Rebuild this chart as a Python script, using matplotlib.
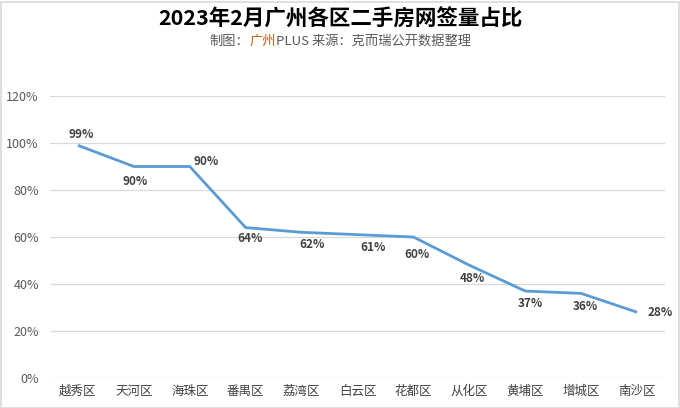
import matplotlib
matplotlib.use("Agg")
import matplotlib.pyplot as plt
from matplotlib.patches import Rectangle
from matplotlib.ticker import FuncFormatter

plt.rcParams['font.family'] = ['Noto Sans CJK SC', 'DejaVu Sans']

districts = ["越秀区", "天河区", "海珠区", "番禺区", "荔湾区", "白云区", "花都区", "从化区", "黄埔区", "增城区", "南沙区"]
shares = [99, 90, 90, 64, 62, 61, 60, 48, 37, 36, 28]
label_offsets = [(3, 11), (1, -15), (16, 5), (4, -11), (10, -12), (16, -13),
                 (4, -17), (3, -13), (5, -12), (4, -13), (23, 0)]
yticks = [0, 20, 40, 60, 80, 100, 120]

fig = plt.figure(figsize=(6.8, 4.08), dpi=100)
ax = fig.add_axes([50/680, 30/408, 615/680, 282/408])

x = list(range(len(districts)))
ax.plot(x, shares, color="#5B9BD5", lw=2.0, solid_capstyle="butt", zorder=3)

for xi, v, (dx, dy) in zip(x, shares, label_offsets):
    ax.annotate(f"{v}%", (xi, v), xytext=(dx, dy), textcoords="offset pixels",
                ha="center", va="center", fontsize=8.5, fontweight="bold", color="#404040")

ax.set_xlim(-0.5, len(districts) - 0.5)
ax.set_ylim(0, 120)
ax.set_yticks(yticks)
ax.yaxis.set_major_formatter(FuncFormatter(lambda v, p: f"{int(v)}%"))
ax.set_xticks(x)
ax.set_xticklabels(districts)
ax.tick_params(axis="y", length=0, pad=8, labelsize=9, labelcolor="#595959")
ax.tick_params(axis="x", length=0, pad=5, labelsize=9, labelcolor="#404040")
ax.grid(axis="y", color="#D9D9D9", lw=0.9)
ax.set_axisbelow(True)
for s in ax.spines.values():
    s.set_visible(False)

fig.text(0.5, 1 - 19/408, "2023年2月广州各区二手房网签量占比", ha="center", va="center",
         fontsize=15.5, fontweight="bold", color="#000000")

# subtitle with coloured part
parts = [("制图：", "#595959"), ("广州", "#C55A11"), ("PLUS 来源：克而瑞公开数据整理", "#595959")]
fig.canvas.draw()
renderer = fig.canvas.get_renderer()
texts = []
for s, c in parts:
    t = fig.text(0, 1 - 41/408, s, ha="left", va="center", fontsize=9.5, color=c)
    texts.append(t)
widths = [t.get_window_extent(renderer).width for t in texts]
total = sum(widths)
start = 340 - total / 2
for t, w in zip(texts, widths):
    t.set_x(start / 680)
    start += w

fig.patches.append(Rectangle((0.5/680, 0.5/408), 678/680, 406/408, transform=fig.transFigure,
                             fill=False, edgecolor="#D9D9D9", lw=1.2))

fig.savefig("out.png", dpi=100, facecolor="white")
